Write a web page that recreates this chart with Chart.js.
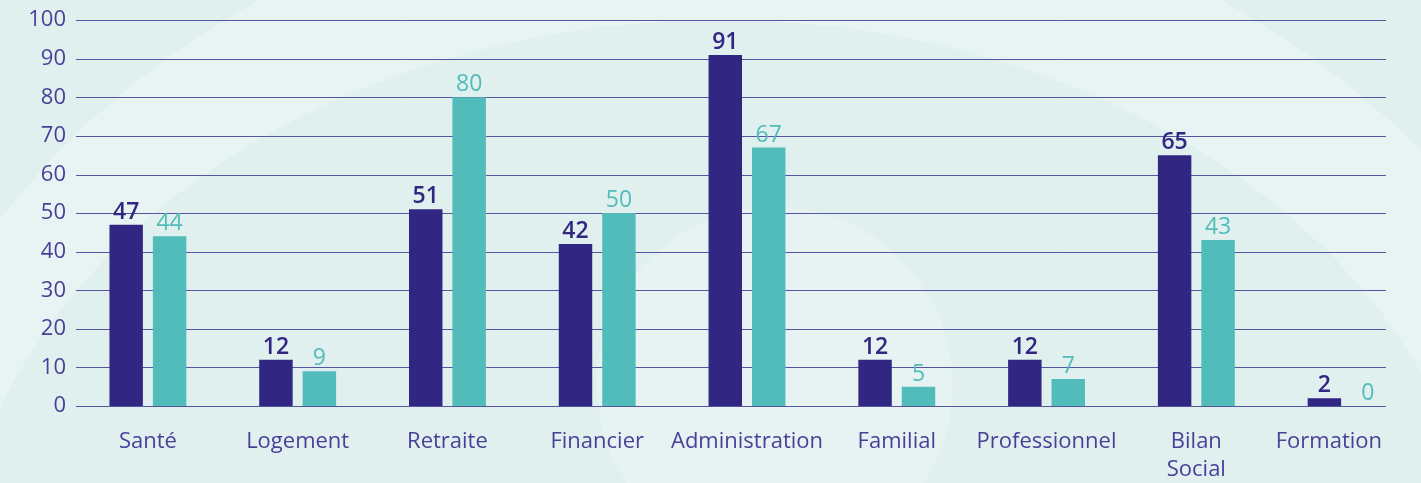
<!DOCTYPE html>
<html>
<head>
<meta charset="utf-8">
<script src="https://cdn.jsdelivr.net/npm/chart.js@4.4.1/dist/chart.umd.min.js"></script>
<style>
  html, body { margin: 0; padding: 0; background: #dff0ef; }
  #wrap { width: 1421px; height: 483px; }
</style>
</head>
<body>
<div id="wrap"><canvas id="c" width="1421" height="483"></canvas></div>
<script>
const categories = ["Santé", "Logement", "Retraite", "Financier", "Administration", "Familial", "Professionnel", ["Bilan", "Social"], "Formation"];
const seriesNavy = [47, 12, 51, 42, 91, 12, 12, 65, 2];
const seriesTeal = [44, 9, 80, 50, 67, 5, 7, 43, 0];
const yTicks = [0, 10, 20, 30, 40, 50, 60, 70, 80, 90, 100];

const NAVY = '#312681';
const TEAL = '#52bcbb';
const TICK = '#4a3f98';
const FONT = "'Open Sans', 'Noto Sans', sans-serif";

const bgPlugin = {
  id: 'bg',
  beforeDraw(chart) {
    const ctx = chart.ctx;
    const W = chart.width, H = chart.height;
    ctx.save();
    ctx.fillStyle = '#dff0ef';
    ctx.fillRect(0, 0, W, H);
    ctx.beginPath();
    ctx.ellipse(740, 620, 880, 740, 0, 0, Math.PI * 2);
    ctx.ellipse(720, 620, 770, 600, 0, 0, Math.PI * 2, true);
    ctx.fillStyle = '#e8f4f3';
    ctx.fill('evenodd');
    ctx.beginPath();
    ctx.arc(775, 385, 178, 0, Math.PI * 2);
    ctx.fillStyle = '#e7f3f2';
    ctx.fill();
    ctx.restore();
  }
};

const gridPlugin = {
  id: 'gridLines',
  beforeDatasetsDraw(chart) {
    const ctx = chart.ctx;
    const y = chart.scales.y;
    ctx.save();
    ctx.strokeStyle = 'rgba(49,45,140,0.8)';
    ctx.lineWidth = 1;
    yTicks.forEach(v => {
      const py = Math.round(y.getPixelForValue(v)) + 0.5;
      ctx.beginPath();
      ctx.moveTo(76, py);
      ctx.lineTo(1386, py);
      ctx.stroke();
    });
    ctx.restore();
  }
};

const xLabelPlugin = {
  id: 'xLabels',
  afterDraw(chart) {
    const ctx = chart.ctx;
    const xs = chart.scales.x;
    const baseY = chart.chartArea.bottom + 36;
    ctx.save();
    ctx.font = '22px ' + FONT;
    ctx.fillStyle = TICK;
    ctx.textAlign = 'center';
    ctx.textBaseline = 'middle';
    categories.forEach((lab, i) => {
      const lines = Array.isArray(lab) ? lab : [lab];
      const w = Math.max(...lines.map(l => ctx.measureText(l).width));
      let x = xs.getPixelForTick(i);
      if (x + w / 2 > 1382) x = 1382 - w / 2;
      lines.forEach((l, k) => ctx.fillText(l, x, baseY + k * 28));
    });
    ctx.restore();
  }
};

const labelPlugin = {
  id: 'valueLabels',
  afterDatasetsDraw(chart) {
    const ctx = chart.ctx;
    ctx.save();
    chart.data.datasets.forEach((ds, i) => {
      const meta = chart.getDatasetMeta(i);
      meta.data.forEach((bar, j) => {
        ctx.font = (i === 0 ? '600 ' : '400 ') + '23px ' + FONT;
        ctx.fillStyle = i === 0 ? NAVY : TEAL;
        ctx.textAlign = 'center';
        ctx.textBaseline = 'bottom';
        ctx.fillText(String(ds.data[j]), bar.x, bar.y - 1);
      });
    });
    ctx.restore();
  }
};

new Chart(document.getElementById('c'), {
  type: 'bar',
  data: {
    labels: categories,
    datasets: [
      { label: 'A', data: seriesNavy, backgroundColor: NAVY, borderWidth: 0, categoryPercentage: 0.58, barPercentage: 0.77 },
      { label: 'B', data: seriesTeal, backgroundColor: TEAL, borderWidth: 0, categoryPercentage: 0.58, barPercentage: 0.77 }
    ]
  },
  options: {
    responsive: false,
    animation: false,
    layout: { padding: { top: 7, right: 0, left: 0, bottom: 0 } },
    plugins: { legend: { display: false }, tooltip: { enabled: false } },
    scales: {
      x: {
        grid: { display: false, drawTicks: false },
        border: { display: false },
        ticks: { display: false },
        afterFit(scale) { scale.height = 77; }
      },
      y: {
        min: 0, max: 100,
        afterBuildTicks(scale) { scale.ticks = yTicks.map(v => ({ value: v })); },
        grid: { display: false, drawTicks: false },
        border: { display: false },
        ticks: { color: TICK, font: { family: FONT, size: 22 }, padding: 7 },
        afterFit(scale) { scale.width = 73; }
      }
    }
  },
  plugins: [bgPlugin, gridPlugin, labelPlugin, xLabelPlugin]
});
</script>
</body>
</html>
